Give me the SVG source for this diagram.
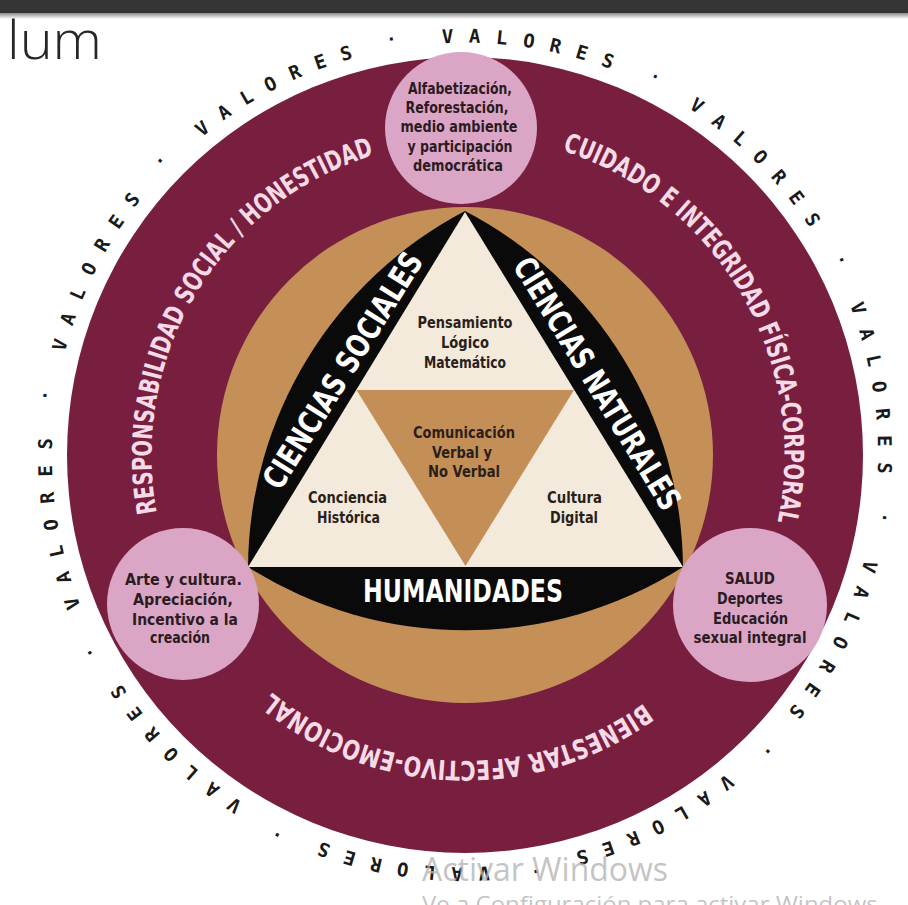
<svg xmlns="http://www.w3.org/2000/svg" xmlns:xlink="http://www.w3.org/1999/xlink" width="908" height="905" viewBox="0 0 908 905">
<defs>
<style>
.val{font-family:"DejaVu Sans Mono","Liberation Mono",monospace;font-weight:bold;font-size:19px;fill:#1a1a1a;letter-spacing:15.31px}
.dot{font-family:"DejaVu Sans Mono","Liberation Mono",monospace;font-weight:bold;font-size:18px;fill:#1a1a1a}
.ring{font-family:"Liberation Sans Narrow","DejaVu Sans Condensed","Roboto Condensed","Roboto",sans-serif;font-weight:bold;font-size:27px;fill:#f6dbe7}
.band{font-family:"Liberation Sans Narrow","DejaVu Sans Condensed","Roboto Condensed","Roboto",sans-serif;font-weight:bold;font-size:32px;fill:#ffffff;text-anchor:middle}
.pc{font-family:"Liberation Sans Narrow","DejaVu Sans Condensed","Roboto Condensed","Roboto",sans-serif;font-weight:bold;font-size:15.5px;fill:#2b1b22;text-anchor:middle}
.tc{font-family:"Liberation Sans Narrow","DejaVu Sans Condensed","Roboto Condensed","Roboto",sans-serif;font-weight:bold;font-size:15.5px;fill:#2a1f1a;text-anchor:middle}
.pink{fill:#dba6c5}
.wm{font-family:"Open Sans","Liberation Sans",sans-serif;fill:#b4b4b4}
</style>
<linearGradient id="shade" x1="0" y1="0" x2="0" y2="1">
<stop offset="0" stop-color="#8a8a8a"/>
<stop offset="1" stop-color="#ffffff"/>
</linearGradient>
<path id="valPath" d="M393.46,49.26 A412,412 0 1,1 536.54,860.74 A412,412 0 1,1 393.46,49.26 A412,412 0 1,1 536.54,860.74 A412,412 0 1,1 393.46,49.26"/>
<path id="dotPath" d="M391.89,40.40 A421,421 0 1,1 538.11,869.60 A421,421 0 1,1 391.89,40.40 A421,421 0 1,1 538.11,869.60 A421,421 0 1,1 391.89,40.40"/>
<path id="leftArc" d="M465,768.5 A313.5,313.5 0 1,1 465,141.5 A313.5,313.5 0 1,1 465,768.5"/>
<path id="rightArc" d="M465,774.5 A319.5,319.5 0 1,1 465,135.5 A319.5,319.5 0 1,1 465,774.5"/>
<path id="bottomArc" d="M465,149 A306,306 0 1,1 465,761 A306,306 0 1,1 465,149"/>
</defs>
<rect width="908" height="905" fill="#ffffff"/>
<g id="window-bar">
<rect x="0" y="0" width="908" height="13" fill="#353535"/>
<rect x="0" y="13" width="908" height="6" fill="url(#shade)"/>
<text x="7" y="59" font-family="'Open Sans','Liberation Sans',sans-serif" font-weight="300" font-size="54" fill="#262626" textLength="95" lengthAdjust="spacingAndGlyphs">lum</text>
</g>
<g id="valores-ring">
<text class="val"><textPath xlink:href="#valPath" href="#valPath" startOffset="48.93">VALORES</textPath></text>
<text class="val"><textPath xlink:href="#valPath" href="#valPath" startOffset="307.80">VALORES</textPath></text>
<text class="val"><textPath xlink:href="#valPath" href="#valPath" startOffset="566.67">VALORES</textPath></text>
<text class="val"><textPath xlink:href="#valPath" href="#valPath" startOffset="825.54">VALORES</textPath></text>
<text class="val"><textPath xlink:href="#valPath" href="#valPath" startOffset="1084.41">VALORES</textPath></text>
<text class="val"><textPath xlink:href="#valPath" href="#valPath" startOffset="1343.28">VALORES</textPath></text>
<text class="val"><textPath xlink:href="#valPath" href="#valPath" startOffset="1602.15">VALORES</textPath></text>
<text class="val"><textPath xlink:href="#valPath" href="#valPath" startOffset="1861.02">VALORES</textPath></text>
<text class="val"><textPath xlink:href="#valPath" href="#valPath" startOffset="2119.89">VALORES</textPath></text>
<text class="val"><textPath xlink:href="#valPath" href="#valPath" startOffset="2378.76">VALORES</textPath></text>
<text class="dot" text-anchor="middle"><textPath xlink:href="#dotPath" href="#dotPath" startOffset="270.03">.</textPath></text>
<text class="dot" text-anchor="middle"><textPath xlink:href="#dotPath" href="#dotPath" startOffset="534.55">.</textPath></text>
<text class="dot" text-anchor="middle"><textPath xlink:href="#dotPath" href="#dotPath" startOffset="799.07">.</textPath></text>
<text class="dot" text-anchor="middle"><textPath xlink:href="#dotPath" href="#dotPath" startOffset="1063.59">.</textPath></text>
<text class="dot" text-anchor="middle"><textPath xlink:href="#dotPath" href="#dotPath" startOffset="1328.11">.</textPath></text>
<text class="dot" text-anchor="middle"><textPath xlink:href="#dotPath" href="#dotPath" startOffset="1592.63">.</textPath></text>
<text class="dot" text-anchor="middle"><textPath xlink:href="#dotPath" href="#dotPath" startOffset="1857.15">.</textPath></text>
<text class="dot" text-anchor="middle"><textPath xlink:href="#dotPath" href="#dotPath" startOffset="2121.67">.</textPath></text>
<text class="dot" text-anchor="middle"><textPath xlink:href="#dotPath" href="#dotPath" startOffset="2386.19">.</textPath></text>
<text class="dot" text-anchor="middle"><textPath xlink:href="#dotPath" href="#dotPath" startOffset="2650.71">.</textPath></text>
</g>
<g id="maroon-ring">
<circle cx="465" cy="455" r="398" fill="#781f40"/>
<text class="ring" text-anchor="middle"><textPath xlink:href="#leftArc" href="#leftArc" startOffset="663.2" textLength="458" lengthAdjust="spacingAndGlyphs">RESPONSABILIDAD SOCIAL / HONESTIDAD</textPath></text>
<text class="ring" text-anchor="middle"><textPath xlink:href="#rightArc" href="#rightArc" startOffset="1337.2" textLength="470" lengthAdjust="spacingAndGlyphs">CUIDADO E INTEGRIDAD FÍSICA-CORPORAL</textPath></text>
<text class="ring" text-anchor="middle"><textPath xlink:href="#bottomArc" href="#bottomArc" startOffset="969.9" textLength="400" lengthAdjust="spacingAndGlyphs">BIENESTAR AFECTIVO-EMOCIONAL</textPath></text>
</g>
<g id="gold-circle">
<circle cx="465" cy="455" r="248" fill="#c49058"/>
</g>
<g id="bands">
<path d="M465,211 A405,405 0 0,1 683,567 A405,405 0 0,1 248,567 A405,405 0 0,1 465,211 Z" fill="#0a0a0a"/>
</g>
<g id="triangle">
<polygon points="465,212 683,567 248,567" fill="#f4eadb"/>
<polygon points="356.5,390 574,390 465.5,566" fill="#c38f57"/>
</g>
<g id="band-sociales">
<text class="band" transform="translate(342,370) rotate(-58)" x="0" y="12" textLength="272" lengthAdjust="spacingAndGlyphs">CIENCIAS SOCIALES</text>
</g>
<g id="band-naturales">
<text class="band" transform="translate(598,383) rotate(58.5)" x="0" y="12" textLength="290" lengthAdjust="spacingAndGlyphs">CIENCIAS NATURALES</text>
</g>
<g id="band-humanidades">
<text class="band" x="463" y="602" font-size="30" textLength="200" lengthAdjust="spacingAndGlyphs">HUMANIDADES</text>
</g>
<g id="pensamiento">
<text class="tc" x="465" y="328" textLength="95" lengthAdjust="spacingAndGlyphs">Pensamiento</text>
<text class="tc" x="465" y="348" textLength="48" lengthAdjust="spacingAndGlyphs">Lógico</text>
<text class="tc" x="465" y="368" textLength="82" lengthAdjust="spacingAndGlyphs">Matemático</text>
</g>
<g id="comunicacion">
<text class="tc" x="464" y="438" textLength="102" lengthAdjust="spacingAndGlyphs">Comunicación</text>
<text class="tc" x="462" y="458" textLength="60" lengthAdjust="spacingAndGlyphs">Verbal y</text>
<text class="tc" x="464" y="477" textLength="72" lengthAdjust="spacingAndGlyphs">No Verbal</text>
</g>
<g id="conciencia">
<text class="tc" x="347.5" y="503" textLength="79" lengthAdjust="spacingAndGlyphs">Conciencia</text>
<text class="tc" x="348.5" y="523" textLength="63" lengthAdjust="spacingAndGlyphs">Histórica</text>
</g>
<g id="cultura">
<text class="tc" x="574.5" y="503" textLength="55" lengthAdjust="spacingAndGlyphs">Cultura</text>
<text class="tc" x="574" y="523" textLength="48" lengthAdjust="spacingAndGlyphs">Digital</text>
</g>
<g id="circle-top">
<circle class="pink" cx="461" cy="128" r="76"/>
<text class="pc" x="460" y="94" textLength="104" lengthAdjust="spacingAndGlyphs">Alfabetización,</text>
<text class="pc" x="457" y="113" textLength="103" lengthAdjust="spacingAndGlyphs">Reforestación,</text>
<text class="pc" x="459" y="132" textLength="117" lengthAdjust="spacingAndGlyphs">medio ambiente</text>
<text class="pc" x="460" y="152" textLength="105" lengthAdjust="spacingAndGlyphs">y participación</text>
<text class="pc" x="458" y="171" textLength="90" lengthAdjust="spacingAndGlyphs">democrática</text>
</g>
<g id="circle-left">
<circle class="pink" cx="183" cy="604" r="76"/>
<text class="pc" x="183.5" y="585" textLength="117" lengthAdjust="spacingAndGlyphs">Arte y cultura.</text>
<text class="pc" x="183" y="605" textLength="100" lengthAdjust="spacingAndGlyphs">Apreciación,</text>
<text class="pc" x="185" y="625" textLength="106" lengthAdjust="spacingAndGlyphs">Incentivo a la</text>
<text class="pc" x="180" y="643" textLength="60" lengthAdjust="spacingAndGlyphs">creación</text>
</g>
<g id="circle-right">
<circle class="pink" cx="750" cy="605" r="77"/>
<text class="pc" x="750" y="584" textLength="50" lengthAdjust="spacingAndGlyphs">SALUD</text>
<text class="pc" x="750" y="604" textLength="66" lengthAdjust="spacingAndGlyphs">Deportes</text>
<text class="pc" x="750.5" y="624" textLength="75" lengthAdjust="spacingAndGlyphs">Educación</text>
<text class="pc" x="750" y="643" textLength="113" lengthAdjust="spacingAndGlyphs">sexual integral</text>
</g>
<g id="watermark">
<text class="wm" x="422" y="881" font-size="32" fill-opacity="0.8" textLength="246" lengthAdjust="spacingAndGlyphs">Activar Windows</text>
<text class="wm" x="422" y="912" font-size="22" fill-opacity="0.8" textLength="462" lengthAdjust="spacingAndGlyphs">Ve a Configuración para activar Windows.</text>
</g>
</svg>
